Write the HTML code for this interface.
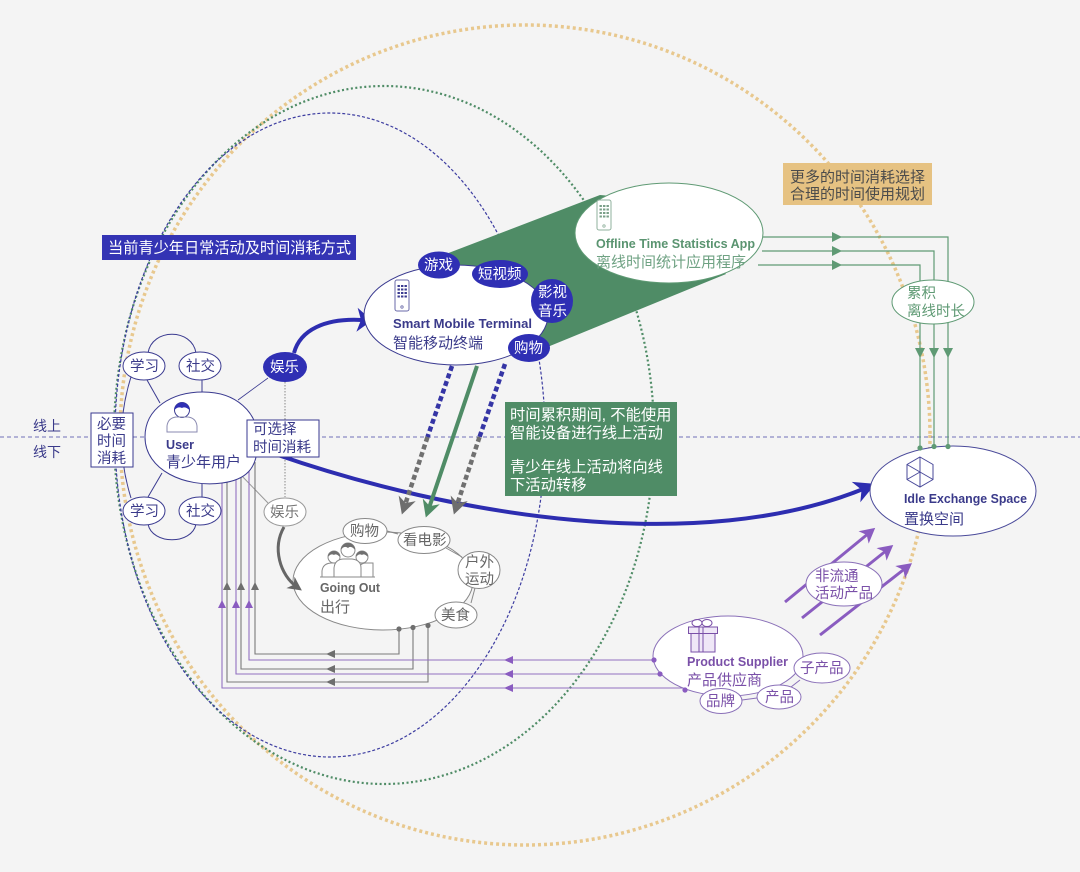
<!DOCTYPE html>
<html><head><meta charset="utf-8">
<style>
html,body{margin:0;padding:0;background:#f4f4f4;}
svg{display:block;}
text{font-family:"Liberation Sans","Noto Sans CJK SC",sans-serif;}
.b{font-weight:bold;}
</style></head><body>
<svg width="1080" height="872" viewBox="0 0 1080 872" xmlns="http://www.w3.org/2000/svg">
<defs>
<marker id="mGray" viewBox="-18 -10 20 20" markerWidth="20" markerHeight="20" refX="-10" refY="0" orient="auto" markerUnits="userSpaceOnUse" overflow="visible"><path d="M0,0 L-17,-9 L-12,0 L-17,9 Z" fill="#6e6e6e"/></marker>
<marker id="mGreen" viewBox="-18 -10 20 20" markerWidth="20" markerHeight="20" refX="-10" refY="0" orient="auto" markerUnits="userSpaceOnUse" overflow="visible"><path d="M0,0 L-17,-9 L-12,0 L-17,9 Z" fill="#4f8c66"/></marker>
<marker id="mBlueBig" viewBox="-22 -12 24 24" markerWidth="24" markerHeight="24" refX="-8" refY="0" orient="auto" markerUnits="userSpaceOnUse" overflow="visible"><path d="M0,0 L-21,-11 L-15,0 L-21,11 Z" fill="#2d2db0"/></marker>
<marker id="mBlueMid" viewBox="-16 -13 18 26" markerWidth="18" markerHeight="26" refX="-10" refY="0" orient="auto" markerUnits="userSpaceOnUse" overflow="visible"><path d="M0,0 L-15,-12 L-11,0 L-15,12 Z" fill="#2d2db0"/></marker>
<marker id="mGrayC" viewBox="-15 -8 16 16" markerWidth="16" markerHeight="16" refX="-6" refY="0" orient="auto" markerUnits="userSpaceOnUse" overflow="visible"><path d="M0,0 L-14,-7 L-10,0 L-14,7 Z" fill="#666"/></marker>
<marker id="mPurple" viewBox="-16 -9 18 18" markerWidth="18" markerHeight="18" refX="-8" refY="0" orient="auto" markerUnits="userSpaceOnUse" overflow="visible"><path d="M0,0 L-15,-8 L-11,0 L-15,8 Z" fill="#8a5cc0"/></marker>
</defs>
<rect width="1080" height="872" fill="#f4f4f4"/>

<!-- big dotted ellipses -->
<ellipse cx="525" cy="435" rx="405" ry="410" fill="none" stroke="#e8c88e" stroke-width="3.5" stroke-dasharray="3 3"/>
<ellipse cx="384" cy="435" rx="270" ry="349" fill="none" stroke="#4f8c66" stroke-width="2.2" stroke-dasharray="2 2.5"/>
<ellipse cx="330" cy="435" rx="215" ry="322" fill="none" stroke="#3c3ca0" stroke-width="1.2" stroke-dasharray="3 2"/>

<!-- online/offline divider -->
<line x1="0" y1="437" x2="1080" y2="437" stroke="#7070b8" stroke-width="1" stroke-dasharray="4 3"/>
<text x="33" y="431" font-size="14" fill="#3a3a8a">线上</text>
<text x="33" y="457" font-size="14" fill="#3a3a8a">线下</text>

<!-- title -->
<rect x="102" y="235" width="254" height="25" fill="#3434b4"/>
<text x="108" y="253" font-size="15.2" fill="#fff">当前青少年日常活动及时间消耗方式</text>

<!-- orange box -->
<rect x="783" y="163" width="149" height="42" fill="#e6c282"/>
<text x="790" y="182" font-size="15" fill="#4b4b4b">更多的时间消耗选择</text>
<text x="790" y="199" font-size="15" fill="#4b4b4b">合理的时间使用规划</text>

<!-- green fan -->
<polygon points="425,262 600,195 660,200 726,274 545,348" fill="#4f8c66"/>

<!-- green lines to right -->
<g stroke="#5f9a74" stroke-width="1.2" fill="none">
<polyline points="760,237 948,237 948,447"/>
<polyline points="762,251 934,251 934,446"/>
<polyline points="758,265 920,265 920,449"/>
</g>
<g fill="#5f9a74">
<polygon points="832,232 842,237 832,242"/>
<polygon points="832,246 842,251 832,256"/>
<polygon points="832,260 842,265 832,270"/>
<polygon points="943,348 953,348 948,358"/>
<polygon points="929,348 939,348 934,358"/>
<polygon points="915,348 925,348 920,358"/>
</g>

<!-- Offline App -->
<ellipse cx="669" cy="233" rx="94" ry="50" fill="#fff" stroke="#5f9a74" stroke-width="1"/>
<rect x="597" y="200" width="14" height="30" rx="2" fill="none" stroke="#8fb09c" stroke-width="1"/>
<g fill="#7a9f88">
<rect x="599.5" y="205" width="2.4" height="2"/><rect x="603" y="205" width="2.4" height="2"/><rect x="606.5" y="205" width="2.4" height="2"/>
<rect x="599.5" y="208.5" width="2.4" height="2"/><rect x="603" y="208.5" width="2.4" height="2"/><rect x="606.5" y="208.5" width="2.4" height="2"/>
<rect x="599.5" y="212" width="2.4" height="2"/><rect x="603" y="212" width="2.4" height="2"/><rect x="606.5" y="212" width="2.4" height="2"/>
<rect x="599.5" y="215.5" width="2.4" height="2"/><rect x="603" y="215.5" width="2.4" height="2"/><rect x="606.5" y="215.5" width="2.4" height="2"/>
</g>
<circle cx="604" cy="226" r="1.2" fill="none" stroke="#8fb09c" stroke-width="0.8"/>
<text x="596" y="248" font-size="12.5" class="b" fill="#5a9470" textLength="159" lengthAdjust="spacingAndGlyphs">Offline Time Statistics App</text>
<text x="596" y="267" font-size="15" fill="#6fa283">离线时间统计应用程序</text>

<!-- 累积 -->
<ellipse cx="933" cy="302" rx="41" ry="22" fill="#fff" stroke="#5f9a74" stroke-width="1"/>
<text x="907" y="298" font-size="14.5" fill="#5f9a74">累积</text>
<text x="907" y="316" font-size="14.5" fill="#5f9a74">离线时长</text>

<!-- User group lines -->
<g stroke="#3a3a90" stroke-width="1" fill="none">
<path d="M148,353 C152,328 192,328 196,353"/>
<path d="M148,524 C152,545 192,545 196,524"/>
<path d="M131,377 Q112,437 131,498"/>
<line x1="160" y1="403" x2="147" y2="380"/>
<line x1="202" y1="392" x2="202" y2="380"/>
<line x1="162" y1="473" x2="148" y2="497"/>
<line x1="202" y1="483" x2="202" y2="497"/>
<line x1="238" y1="400" x2="268" y2="378" stroke-width="0.8"/>
</g>
<line x1="240" y1="474" x2="268" y2="503" stroke="#999" stroke-width="1"/>
<line x1="285" y1="382" x2="285" y2="497" stroke="#888" stroke-width="1" stroke-dasharray="1.5 1.5"/>

<!-- bottom connector lines -->
<g stroke="#7a7a7a" stroke-width="1.1" fill="none">
<polyline points="255,462 255,654 399,654 399,630"/>
<polyline points="241,470 241,669 413,669 413,628"/>
<polyline points="227,470 227,682 428,682 428,626"/>
</g>
<g stroke="#9270c0" stroke-width="1.1" fill="none">
<polyline points="249,466 249,660 654,660"/>
<polyline points="236,470 236,674 660,674"/>
<polyline points="222,470 222,688 684,688"/>
</g>
<g fill="#6e6e6e">
<polygon points="223,590 231,590 227,582"/>
<polygon points="237,590 245,590 241,582"/>
<polygon points="251,590 259,590 255,582"/>
<polygon points="326,654 335,650 335,658"/>
<polygon points="326,669 335,665 335,673"/>
<polygon points="326,682 335,678 335,686"/>
</g>
<g fill="#8a5cc0">
<polygon points="218,608 226,608 222,600"/>
<polygon points="232,608 240,608 236,600"/>
<polygon points="245,608 253,608 249,600"/>
<polygon points="504,660 513,656 513,664"/>
<polygon points="504,674 513,670 513,678"/>
<polygon points="504,688 513,684 513,692"/>
</g>

<!-- User -->
<path d="M145,437 C145,408 172,392 203,392 C236,392 258,412 258,440 C258,470 245,480 222,483 C185,488 145,470 145,437 Z" fill="#fff" stroke="#3a3a90" stroke-width="1"/>
<circle cx="182" cy="410" r="7.5" fill="#fff" stroke="#3a3a90" stroke-width="1"/>
<path d="M174.5,410 A7.5,7.5 0 0 1 189.5,410 Q185,406 182,408 Q178,406 174.5,410 Z" fill="#2f2fb4"/>
<path d="M167,432 L167,426 Q168,418 176,417 L188,417 Q196,418 197,426 L197,432 Z" fill="none" stroke="#8a8ab0" stroke-width="1"/>
<text x="166" y="449" font-size="13" class="b" fill="#3a3a8a" textLength="28" lengthAdjust="spacingAndGlyphs">User</text>
<text x="166" y="467" font-size="15" fill="#3a3a8a">青少年用户</text>

<!-- user bubbles -->
<g fill="#fff" stroke="#3a3a90" stroke-width="1">
<ellipse cx="144" cy="366" rx="21" ry="14"/>
<ellipse cx="200" cy="366" rx="21" ry="14"/>
<ellipse cx="144" cy="511" rx="21" ry="14"/>
<ellipse cx="200" cy="511" rx="21" ry="14"/>
</g>
<g font-size="14.5" fill="#3a3a8a">
<text x="130" y="371">学习</text>
<text x="186" y="371">社交</text>
<text x="130" y="516">学习</text>
<text x="186" y="516">社交</text>
</g>

<!-- boxes -->
<rect x="91" y="413" width="42" height="54" fill="#fff" stroke="#3a3a90" stroke-width="1"/>
<text x="97" y="429" font-size="14.5" fill="#3a3a8a">必要</text>
<text x="97" y="446" font-size="14.5" fill="#3a3a8a">时间</text>
<text x="97" y="463" font-size="14.5" fill="#3a3a8a">消耗</text>

<!-- big blue curve -->
<path d="M275,454 C450,515 700,558 868,487" fill="none" stroke="#2d2db0" stroke-width="4" marker-end="url(#mBlueBig)"/>

<rect x="247" y="420" width="72" height="37" fill="#fff" stroke="#3a3a90" stroke-width="1"/>
<text x="253" y="434" font-size="14.5" fill="#3a3a8a">可选择</text>
<text x="253" y="452" font-size="14.5" fill="#3a3a8a">时间消耗</text>

<!-- blue 娱乐 -->
<path d="M294,353 C300,330 325,318 362,320" fill="none" stroke="#2d2db0" stroke-width="4" marker-end="url(#mBlueMid)"/>
<ellipse cx="285" cy="367" rx="22" ry="15" fill="#2f2fb4"/>
<text x="270" y="372" font-size="14.5" fill="#fff">娱乐</text>

<!-- Smart Mobile Terminal -->
<ellipse cx="456" cy="315" rx="92" ry="50" fill="#fff" stroke="#3a3a90" stroke-width="1"/>
<rect x="395" y="280" width="14" height="31" rx="2" fill="none" stroke="#6a6aa8" stroke-width="1"/>
<g fill="#3a3a90">
<rect x="397.5" y="285" width="2.4" height="2"/><rect x="401" y="285" width="2.4" height="2"/><rect x="404.5" y="285" width="2.4" height="2"/>
<rect x="397.5" y="288.5" width="2.4" height="2"/><rect x="401" y="288.5" width="2.4" height="2"/><rect x="404.5" y="288.5" width="2.4" height="2"/>
<rect x="397.5" y="292" width="2.4" height="2"/><rect x="401" y="292" width="2.4" height="2"/><rect x="404.5" y="292" width="2.4" height="2"/>
<rect x="397.5" y="295.5" width="2.4" height="2"/><rect x="401" y="295.5" width="2.4" height="2"/><rect x="404.5" y="295.5" width="2.4" height="2"/>
</g>
<circle cx="402" cy="307" r="1.2" fill="none" stroke="#6a6aa8" stroke-width="0.8"/>
<text x="393" y="328" font-size="12.5" class="b" fill="#3a3a8a" textLength="139" lengthAdjust="spacingAndGlyphs">Smart Mobile Terminal</text>
<text x="393" y="348" font-size="15" fill="#3a3a8a">智能移动终端</text>

<g fill="#2f2fb4">
<ellipse cx="439" cy="265" rx="21" ry="13.5"/>
<ellipse cx="500" cy="274" rx="28" ry="14"/>
<ellipse cx="552" cy="301" rx="21" ry="22"/>
<ellipse cx="529" cy="348" rx="21" ry="14"/>
</g>
<g font-size="14.5" fill="#fff">
<text x="424" y="270">游戏</text>
<text x="478" y="279">短视频</text>
<text x="538" y="297">影视</text>
<text x="538" y="316">音乐</text>
<text x="514" y="353">购物</text>
</g>

<!-- dashed arrows -->
<line x1="452" y1="366" x2="427.5" y2="437" stroke="#3535a5" stroke-width="4.5" stroke-dasharray="5 3"/>
<line x1="427.5" y1="437" x2="405" y2="505" stroke="#707070" stroke-width="4.5" stroke-dasharray="5 3" marker-end="url(#mGray)"/>
<line x1="505" y1="364" x2="479.5" y2="437" stroke="#3535a5" stroke-width="4.5" stroke-dasharray="5 3"/>
<line x1="479.5" y1="437" x2="457" y2="505" stroke="#707070" stroke-width="4.5" stroke-dasharray="5 3" marker-end="url(#mGray)"/>
<line x1="477" y1="366" x2="429" y2="508" stroke="#4f8c66" stroke-width="4" marker-end="url(#mGreen)"/>

<!-- green text box -->
<rect x="505" y="402" width="172" height="94" fill="#4f8c66"/>
<g font-size="15.3" fill="#fff">
<text x="510" y="420">时间累积期间, 不能使用</text>
<text x="510" y="438">智能设备进行线上活动</text>
<text x="510" y="472">青少年线上活动将向线</text>
<text x="510" y="490">下活动转移</text>
</g>

<!-- Going Out -->
<ellipse cx="383" cy="581" rx="90" ry="49" fill="#fff" stroke="#888" stroke-width="1"/>
<g fill="#6e6e6e">
<circle cx="399" cy="629" r="2.6"/><circle cx="413" cy="627.5" r="2.6"/><circle cx="428" cy="625.5" r="2.6"/>
</g>
<g stroke="#888" stroke-width="1" fill="none">
<line x1="387" y1="531" x2="398" y2="534"/>
<line x1="446" y1="548" x2="462" y2="557"/>
<line x1="475" y1="588" x2="471" y2="603"/>
</g>
<g fill="#fff" stroke="#888" stroke-width="1">
<ellipse cx="365" cy="531" rx="22" ry="12.5"/>
<ellipse cx="424" cy="540" rx="26" ry="13.5"/>
<ellipse cx="479" cy="570" rx="21" ry="18.5"/>
<ellipse cx="456" cy="615" rx="21" ry="13"/>
</g>
<g font-size="14.5" fill="#666">
<text x="350" y="536">购物</text>
<text x="403" y="545">看电影</text>
<text x="465" y="567">户外</text>
<text x="465" y="584">运动</text>
<text x="441" y="620">美食</text>
</g>
<!-- people icon -->
<g stroke="#8a8a8a" stroke-width="1" fill="#fff">
<path d="M322,577 L322,571 Q323,563 332,563 L340,563 Q348,564 348,571 L348,577"/>
<path d="M358,577 L358,571 Q359,563 366,563 L373,563 Q373,564 373,571 L373,577"/>
<circle cx="334" cy="557" r="6"/>
<circle cx="362" cy="557" r="6"/>
<path d="M334,577 L334,568 Q335,559 344,559 L352,559 Q361,560 361,568 L361,577"/>
<circle cx="348" cy="550" r="7"/>
</g>
<g fill="#707070">
<path d="M328,557 A6,6 0 0 1 340,557 Q336,553 334,555 Q331,553 328,557 Z"/>
<path d="M356,557 A6,6 0 0 1 368,557 Q364,553 362,555 Q359,553 356,557 Z"/>
<path d="M341,550 A7,7 0 0 1 355,550 Q351,545 348,548 Q344,545 341,550 Z"/>
</g>
<line x1="320" y1="577" x2="375" y2="577" stroke="#8a8a8a" stroke-width="1"/>
<text x="320" y="592" font-size="12.5" class="b" fill="#666" textLength="60" lengthAdjust="spacingAndGlyphs">Going Out</text>
<text x="320" y="612" font-size="15" fill="#666">出行</text>

<!-- gray 娱乐 (drawn over Going Out) -->
<path d="M284,527 C272,548 280,575 297,587" fill="none" stroke="#666" stroke-width="3" marker-end="url(#mGrayC)"/>
<ellipse cx="285" cy="512" rx="21" ry="14" fill="#fff" stroke="#999" stroke-width="1"/>
<text x="270" y="517" font-size="14.5" fill="#777">娱乐</text>

<!-- purple arrows -->
<g stroke="#8a5cc0" stroke-width="3" marker-end="url(#mPurple)">
<line x1="785" y1="602" x2="869" y2="533"/>
<line x1="802" y1="618" x2="887" y2="550"/>
<line x1="820" y1="635" x2="905.7" y2="568"/>
</g>
<ellipse cx="844" cy="584" rx="38" ry="22" fill="#fff" stroke="#8a70b8" stroke-width="1"/>
<text x="815" y="581" font-size="14.5" fill="#7a50a8">非流通</text>
<text x="815" y="598" font-size="14.5" fill="#7a50a8">活动产品</text>

<!-- Product Supplier -->
<ellipse cx="728" cy="656" rx="75" ry="40" fill="#fff" stroke="#8a70b8" stroke-width="1"/>
<g stroke="#8a70b8" stroke-width="1" fill="none">
<line x1="742" y1="700" x2="757" y2="698"/>
<line x1="791" y1="687" x2="800" y2="680"/>
</g>
<g fill="#fff" stroke="#8a70b8" stroke-width="1">
<ellipse cx="822" cy="668" rx="28" ry="15"/>
<ellipse cx="779" cy="697" rx="22" ry="12"/>
<ellipse cx="721" cy="701" rx="21" ry="12.5"/>
</g>
<g font-size="14.5" fill="#7a50a8">
<text x="800" y="673">子产品</text>
<text x="765" y="702">产品</text>
<text x="706" y="706">品牌</text>
</g>
<g fill="#8a5cc0">
<circle cx="654" cy="660" r="2.6"/><circle cx="660" cy="674" r="2.6"/><circle cx="685" cy="690" r="2.6"/>
</g>
<!-- gift icon -->
<g stroke="#7a50a8" stroke-width="1" fill="#efe7f7">
<rect x="691" y="633" width="24" height="19"/>
<rect x="688.5" y="627" width="29" height="6.5"/>
</g>
<g stroke="#7a50a8" stroke-width="1" fill="none">
<line x1="703" y1="627" x2="703" y2="652"/>
<line x1="699" y1="627" x2="699" y2="652"/>
<ellipse cx="697" cy="623" rx="5" ry="3.5"/>
<ellipse cx="707" cy="623" rx="5" ry="3.5"/>
</g>
<text x="687" y="666" font-size="12.5" class="b" fill="#7a50a8" textLength="101" lengthAdjust="spacingAndGlyphs">Product Supplier</text>
<text x="687" y="685" font-size="15" fill="#7a50a8">产品供应商</text>

<!-- Idle Exchange Space -->
<ellipse cx="953" cy="491" rx="83" ry="45" fill="#fff" stroke="#4a4a9a" stroke-width="1"/>
<g fill="#5f9a74">
<circle cx="920" cy="448" r="2.6"/><circle cx="934" cy="446.5" r="2.6"/><circle cx="948" cy="446.5" r="2.6"/>
</g>
<g stroke="#4a4a9a" stroke-width="1" fill="none">
<polygon points="920,457 933,464.5 933,479.5 920,487 907,479.5 907,464.5"/>
<line x1="920" y1="472" x2="920" y2="457"/>
<line x1="920" y1="472" x2="907" y2="479.5"/>
<line x1="920" y1="472" x2="933" y2="479.5"/>
<line x1="907" y1="464.5" x2="920" y2="472"/>
<line x1="920" y1="472" x2="920" y2="487"/>
</g>
<text x="904" y="503" font-size="12.5" class="b" fill="#3a3a8a" textLength="123" lengthAdjust="spacingAndGlyphs">Idle Exchange Space</text>
<text x="904" y="524" font-size="15" fill="#3a3a8a">置换空间</text>
</svg>
</body></html>
